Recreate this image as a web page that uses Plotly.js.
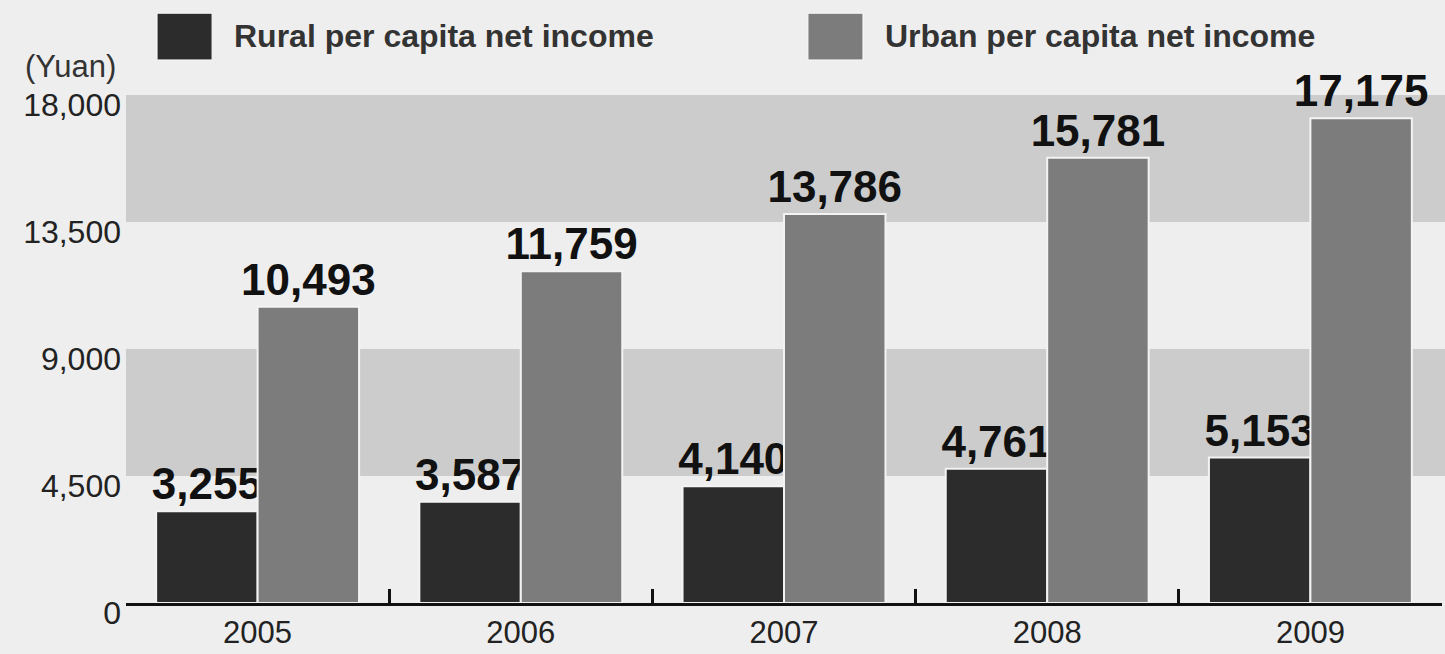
<!DOCTYPE html>
<html>
<head>
<meta charset="utf-8">
<script src="https://cdn.plot.ly/plotly-3.0.1.min.js"></script>
<style>
html,body{margin:0;padding:0;background:#eeeeee;}
#chart{width:1445px;height:654px;}
</style>
</head>
<body>
<div id="chart"></div>
<script>
const years = ['2005', '2006', '2007', '2008', '2009'];
const rural = [3255, 3587, 4140, 4761, 5153];
const urban = [10493, 11759, 13786, 15781, 17175];
const seriesNames = ['Rural per capita net income', 'Urban per capita net income'];
const yTicks = [0, 4500, 9000, 13500, 18000];
const yTickLabels = ['0', '4,500', '9,000', '13,500', '18,000'];
const bands = [[4500, 9000], [13500, 18000]];
const unitLabel = '(Yuan)';

const fam = '"Liberation Sans", Arial, sans-serif';
const valueFont = {family: fam, size: 44, color: '#111111', weight: 'bold'};
const colors = ['#2c2c2c', '#7c7c7c'];

function barTrace(vals, i) {
  return {
    type: 'bar', x: years, y: vals, name: seriesNames[i],
    marker: {color: colors[i], line: {color: '#f3f3f3', width: 2}},
    text: vals.map(v => v.toLocaleString('en-US')),
    textposition: 'outside', textfont: valueFont,
    constraintext: 'none', cliponaxis: false,
    hoverinfo: 'x+y', showlegend: false
  };
}

const data = [barTrace(rural, 0), barTrace(urban, 1)];

const shapes = bands.map(b => ({
  type: 'rect', xref: 'paper', yref: 'y', x0: 0, x1: 1.003, y0: b[0], y1: b[1],
  fillcolor: '#cccccc', line: {width: 0}, layer: 'below'
}));
// legend swatches
const legX = [[0.0236, 0.0654], [0.5182, 0.5600]];
legX.forEach((lx, i) => shapes.push({
  type: 'rect', xref: 'paper', yref: 'paper', x0: lx[0], x1: lx[1], y0: 1.069, y1: 1.161,
  fillcolor: colors[i], line: {color: '#fafafa', width: 1}
}));

const annotations = [
  {xref: 'paper', yref: 'paper', x: 0.0805, y: 1.117, xanchor: 'left', yanchor: 'middle',
   text: seriesNames[0], showarrow: false, font: {family: fam, size: 32, color: '#333333', weight: 'bold'}},
  {xref: 'paper', yref: 'paper', x: 0.5752, y: 1.117, xanchor: 'left', yanchor: 'middle',
   text: seriesNames[1], showarrow: false, font: {family: fam, size: 32, color: '#333333', weight: 'bold'}},
  {xref: 'paper', yref: 'paper', x: 0, xshift: -8, y: 1.057, xanchor: 'right', yanchor: 'middle',
   text: unitLabel, showarrow: false, font: {family: fam, size: 31, color: '#333333'}}
];

const layout = {
  width: 1445, height: 654,
  margin: {l: 126, r: 3, t: 95, b: 51},
  paper_bgcolor: '#eeeeee', plot_bgcolor: '#eeeeee',
  barmode: 'group', bargap: 0.229, bargroupgap: 0.0,
  showlegend: false,
  xaxis: {
    type: 'category', range: [-0.5, 4.5], tickson: 'boundaries',
    ticks: 'inside', ticklen: 14, tickwidth: 3, tickcolor: '#111111',
    showline: true, linecolor: '#111111', linewidth: 3,
    showgrid: false, zeroline: false, fixedrange: true,
    tickfont: {family: fam, size: 31, color: '#222222'}
  },
  yaxis: {
    range: [0, 18000], tickmode: 'array', tickvals: yTicks, ticktext: yTickLabels,
    showgrid: false, zeroline: false, showline: false, ticks: '',
    ticklabelshift: 10, ticklabelstandoff: 4, fixedrange: true,
    tickfont: {family: fam, size: 32, color: '#222222'}
  },
  shapes: shapes,
  annotations: annotations,
  font: {family: fam}
};

Plotly.newPlot('chart', data, layout, {displayModeBar: false, staticPlot: true});
</script>
</body>
</html>
